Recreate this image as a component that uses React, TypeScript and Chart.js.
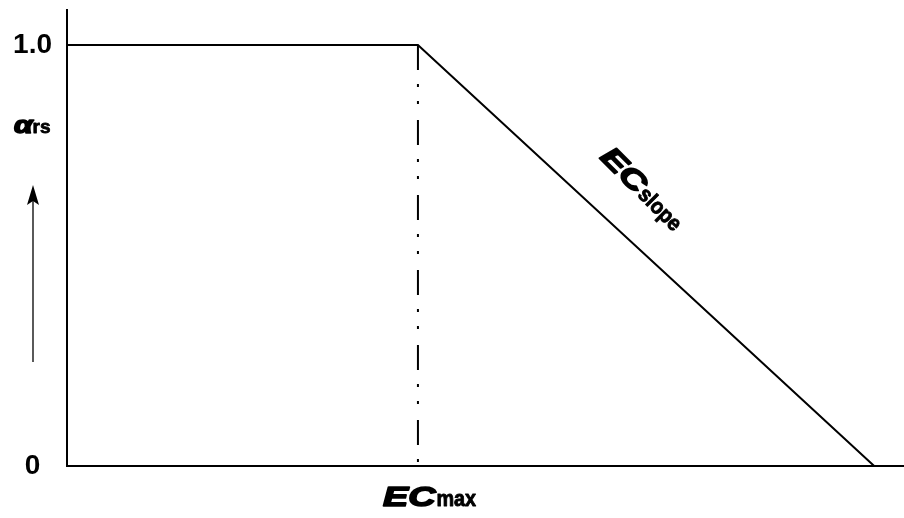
import React, { useEffect, useRef } from "react";
import { Chart, registerables } from "chart.js";

Chart.register(...registerables);

// ---- data ----
const ecMax = 10;
const ecZero = 23;
const xAxisMax = 23.85;
const yAxisMax = 1.083;
const ecValues = [0, ecMax, ecZero];
const alphaValues = [1, 1, 0];
const yTickValues = [0, 1];
const yTickLabels = ["0", "1.0"];
const ecMaxLabel = ["EC", "max"];
const ecSlopeLabel = ["EC", "slope"];
const yTitle = ["α", "rs"];

const FONT = '"Liberation Sans", Arial, Helvetica, sans-serif';

function heavyText(ctx: CanvasRenderingContext2D, text: string, x: number, y: number, weight: number) {
  ctx.fillText(text, x, y);
  ctx.lineWidth = weight;
  ctx.lineJoin = "round";
  ctx.strokeText(text, x, y);
}

function drawEC(ctx: CanvasRenderingContext2D, main: string, sub: string) {
  ctx.save();
  ctx.textAlign = "left";
  ctx.textBaseline = "alphabetic";
  ctx.fillStyle = "#000";
  ctx.strokeStyle = "#000";
  ctx.save();
  ctx.scale(1.35, 1);
  ctx.font = `italic bold 28px ${FONT}`;
  heavyText(ctx, main, 0, 0, 1.6);
  const w = ctx.measureText(main).width * 1.35;
  ctx.restore();
  ctx.save();
  ctx.translate(w + 1, 0);
  ctx.scale(0.9, 1);
  ctx.font = `bold 22px ${FONT}`;
  heavyText(ctx, sub, 0, 0, 0.9);
  ctx.restore();
  ctx.restore();
}

const annotations = {
  id: "annotations",
  afterDraw(chart: any) {
    const ctx: CanvasRenderingContext2D = chart.ctx;
    const xs = chart.scales.x;
    ctx.save();
    ctx.fillStyle = "#000";
    ctx.strokeStyle = "#000";

    // EC max label below the axis
    ctx.save();
    ctx.translate(xs.getPixelForValue(ecMax) - 35, 506);
    drawEC(ctx, ecMaxLabel[0], ecMaxLabel[1]);
    ctx.restore();

    // EC slope label along the slope
    ctx.save();
    ctx.translate(599, 158);
    ctx.rotate(Math.PI / 4);
    drawEC(ctx, ecSlopeLabel[0], ecSlopeLabel[1]);
    ctx.restore();

    // alpha_rs title
    ctx.save();
    ctx.textBaseline = "alphabetic";
    ctx.textAlign = "left";
    ctx.translate(14, 133);
    ctx.save();
    ctx.scale(1.25, 1);
    ctx.font = `italic bold 24px ${FONT}`;
    heavyText(ctx, yTitle[0], 0, 0, 1.6);
    const aw = ctx.measureText(yTitle[0]).width * 1.25;
    ctx.restore();
    ctx.font = `bold 19px ${FONT}`;
    heavyText(ctx, yTitle[1], aw, 0, 0.8);
    ctx.restore();

    // upward arrow
    const ax = 33;
    ctx.lineWidth = 1.3;
    ctx.beginPath();
    ctx.moveTo(ax, 362);
    ctx.lineTo(ax, 198);
    ctx.stroke();
    ctx.beginPath();
    ctx.moveTo(ax, 185);
    ctx.lineTo(ax - 6, 205);
    ctx.lineTo(ax, 201);
    ctx.lineTo(ax + 6, 205);
    ctx.closePath();
    ctx.fill();

    ctx.restore();
  },
};

export default function App() {
  const ref = useRef<HTMLCanvasElement | null>(null);
  useEffect(() => {
    if (!ref.current) return;
    const chart = new Chart(ref.current, {
      type: "line",
      data: {
        datasets: [
          {
            data: ecValues.map((x, i) => ({ x, y: alphaValues[i] })),
            borderColor: "#000",
            borderWidth: 2,
            pointRadius: 0,
            tension: 0,
            fill: false,
          },
          {
            data: [
              { x: ecMax, y: alphaValues[1] },
              { x: ecMax, y: 0 },
            ],
            borderColor: "#000",
            borderWidth: 2,
            borderDash: [25, 14, 3, 14, 3, 16],
            pointRadius: 0,
            tension: 0,
            fill: false,
          },
        ],
      },
      options: {
        animation: false,
        responsive: true,
        maintainAspectRatio: false,
        layout: { padding: { top: 10, left: 0, right: 0, bottom: 0 } },
        plugins: {
          legend: { display: false },
          tooltip: { enabled: false },
        },
        scales: {
          x: {
            type: "linear",
            min: 0,
            max: xAxisMax,
            grid: { display: false, drawTicks: false },
            border: { display: true, color: "#000", width: 2 },
            ticks: { display: false },
            afterFit(scale: any) {
              scale.height = 52;
              scale.paddingLeft = 0;
              scale.paddingRight = 0;
            },
          },
          y: {
            type: "linear",
            min: 0,
            max: yAxisMax,
            grid: { display: false, drawTicks: false },
            border: { display: true, color: "#000", width: 2 },
            afterBuildTicks(scale: any) {
              scale.ticks = yTickValues.map((v) => ({ value: v }));
            },
            ticks: {
              padding: 15,
              crossAlign: "center",
              color: "#000",
              font: { family: FONT, size: 28, weight: "bold" },
              callback: (v: any) => yTickLabels[yTickValues.indexOf(Number(v))] ?? "",
            },
            afterFit(scale: any) {
              scale.width = 67;
              scale.paddingTop = 0;
              scale.paddingBottom = 0;
            },
          },
        },
      },
      plugins: [annotations],
    } as any);
    return () => chart.destroy();
  }, []);
  return (
    <div style={{ position: "absolute", left: 0, top: 0, width: 904, height: 518 }}>
      <canvas ref={ref} />
    </div>
  );
}
